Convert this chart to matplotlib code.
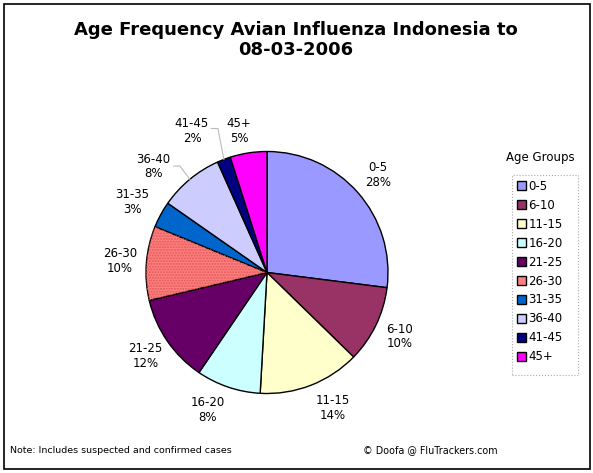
import numpy as np
import matplotlib.pyplot as plt
from matplotlib.patches import Wedge, Rectangle

# age groups, share of cases as drawn (% of the circle) and the printed labels
groups = ['0-5', '6-10', '11-15', '16-20', '21-25', '26-30', '31-35', '36-40', '41-45', '45+']
share = [27.0, 10.3, 13.6, 8.6, 11.8, 9.9, 3.5, 8.6, 1.8, 4.9]
pct_label = [28, 10, 14, 8, 12, 10, 3, 8, 2, 5]
colors = ['#9999FF', '#993366', '#FFFFCC', '#CCFFFF', '#660066',
          '#FF8080', '#0066CC', '#CCCCFF', '#000080', '#FF00FF']

plt.rcParams['font.family'] = ['Verdana', 'DejaVu Sans']

W, H = 593, 473
fig = plt.figure(figsize=(W / 100, H / 100), dpi=100)

# pie axes: centre (267, 272.5) px, radius 121 px
R = 121
lim = 1.3
side = 2 * lim * R
cx, cy = 267, 272.5
ax = fig.add_axes([(cx - side / 2) / W, (H - cy - side / 2) / H, side / W, side / H])

labels = [f'{g}\n{p}%' for g, p in zip(groups, pct_label)]
wedges, texts = ax.pie(share, colors=colors, startangle=90, counterclock=False,
                       labels=labels, labeldistance=1.22,
                       wedgeprops=dict(edgecolor='black', linewidth=1.0),
                       textprops=dict(fontsize=8.5, linespacing=1.15))
for t in texts:
    t.set_ha('center')
    t.set_va('center')

# dotted pattern on 26-30
w = wedges[groups.index('26-30')]
ax.add_patch(Wedge(w.center, w.r, w.theta1, w.theta2, facecolor='none',
                   edgecolor='#E05A5A', hatch='......', linewidth=0))


def edge_point(wd):
    a = np.deg2rad((wd.theta1 + wd.theta2) / 2)
    return np.cos(a), np.sin(a)


# labels that Excel moved, with their leader lines
texts[groups.index('11-15')].set_position((0.545, -1.12))
texts[groups.index('16-20')].set_position((-0.49, -1.135))
texts[groups.index('31-35')].set_position((-1.116, 0.583))
texts[groups.index('45+')].set_position((-0.231, 1.169))

i41 = groups.index('41-45')
texts[i41].set_position((-0.62, 1.17))
x0, y0 = edge_point(wedges[i41])
ax.plot([x0, -0.405, -0.46], [y0, 1.19, 1.19], color='#BBBBBB', lw=0.8)

i36 = groups.index('36-40')
texts[i36].set_position((-0.94, 0.875))
x0, y0 = edge_point(wedges[i36])
ax.plot([x0, -0.72, -0.77], [y0, 0.88, 0.88], color='#BBBBBB', lw=0.8)

ax.set_xlim(-lim, lim)
ax.set_ylim(-lim, lim)
ax.set_aspect('equal')
ax.axis('off')

fig.text(296 / W, 1 - 40 / H, 'Age Frequency Avian Influenza Indonesia to\n08-03-2006',
         ha='center', va='center', fontsize=13, fontweight='bold', linespacing=1.2)

# legend: title above, entries without frame, dotted box drawn separately
fig.text(540 / W, 1 - 157 / H, 'Age Groups', ha='center', va='center', fontsize=8.5)
leg = fig.legend(wedges, groups, loc='upper left',
                 bbox_to_anchor=(516.5 / W, 1 - 180 / H), fontsize=8.5,
                 handlelength=0.8, handleheight=0.8, handletextpad=0.2,
                 labelspacing=0.5, borderpad=0, borderaxespad=0,
                 frameon=False)
fig.patches.append(Rectangle((512 / W, 1 - 375 / H), 66 / W, 200 / H,
                             transform=fig.transFigure, facecolor='none',
                             edgecolor='#AAAAAA', linestyle=':', linewidth=0.8))

fig.text(10 / W, 1 - 450 / H, 'Note: Includes suspected and confirmed cases',
         ha='left', va='center', fontsize=6.8)
fig.text(498 / W, 1 - 450 / H, '\u00a9 Doofa @ FluTrackers.com',
         ha='right', va='center', fontsize=6.9)

fig.patches.append(Rectangle((4 / W, 4 / H), 586 / W, 465 / H, transform=fig.transFigure,
                             facecolor='none', edgecolor='black', linewidth=1.2))

fig.savefig('out.png', dpi=100)
